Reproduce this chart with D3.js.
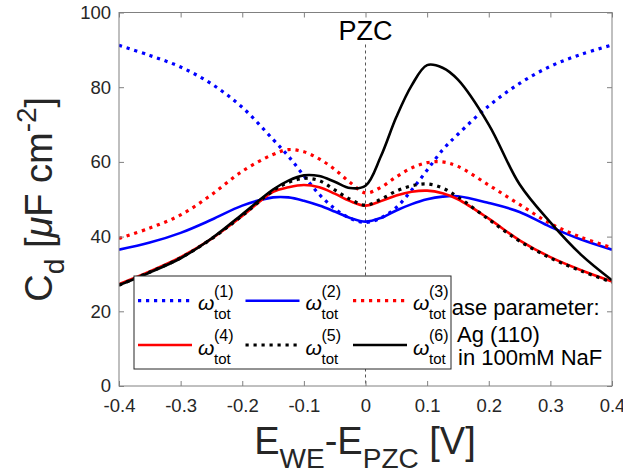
<!DOCTYPE html>
<html>
<head>
<meta charset="utf-8">
<script src="https://cdn.jsdelivr.net/npm/d3@7"></script>
<style>
  body { margin: 0; background: #fff; }
  svg { font-family: "Liberation Sans", Arial, Helvetica, sans-serif; }
</style>
</head>
<body>
<div id="chart"></div>
<script>
// potential grid (V vs PZC)
var potential = [-0.4, -0.35, -0.3, -0.25, -0.2, -0.15, -0.125, -0.1, -0.075, -0.05, -0.025,
                 0, 0.025, 0.05, 0.075, 0.1, 0.125, 0.15, 0.2, 0.25, 0.3, 0.35, 0.4];

// capacitance curves, uF/cm2
var omega1 = [91.2, 88.5, 85.4, 80.9, 74.6, 66, 61.5, 56.3, 51.3, 47.5, 44.9,
              43.8, 45, 47.8, 52.5, 57.8, 63.2, 67.4, 75, 81, 85.6, 88.8, 91.3];
var omega2 = [36.5, 38.4, 41, 44.5, 48.3, 50.5, 50.5, 49.6, 48.3, 46.7, 45,
              44, 45, 47, 48.7, 50, 50.7, 50.8, 49, 46.6, 42.6, 39.2, 36.5];
var omega3 = [39.5, 42.3, 45.8, 51.2, 57.5, 62, 63.3, 62.7, 60.8, 58, 54.5,
              51.7, 53.2, 56, 58.4, 59.8, 60, 58.8, 53.8, 48.6, 43.5, 39.8, 37];
var omega4 = [27.3, 30.7, 34.5, 39.4, 45.5, 52, 53.2, 53.8, 53.2, 51.5, 49.5,
              48.3, 49.5, 51, 52, 52.3, 51.6, 50, 44.8, 39, 34.5, 31, 28];
var omega5 = [27, 30.5, 34.3, 39.4, 45.6, 52.3, 54.5, 55.6, 55, 52.5, 50,
              48.4, 50, 52.2, 53.6, 54.1, 53, 50.6, 44.6, 38.8, 34.3, 30.8, 27.8];
var omega6 = [27, 30.4, 34.2, 39.5, 46, 52.6, 55, 56.4, 56.2, 54.7, 53,
              53.6, 61.5, 72, 80.5, 85.9, 85.2, 82, 70, 54, 43.8, 35.1, 28.3];

var seriesNames = ["(1)", "(2)", "(3)", "(4)", "(5)", "(6)"];
var seriesColors = ["#0000ff", "#0000ff", "#ff0000", "#ff0000", "#000000", "#000000"];
var seriesDotted = [true, false, true, false, true, false];

var xTicks = [-0.4, -0.3, -0.2, -0.1, 0, 0.1, 0.2, 0.3, 0.4];
var yTicks = [0, 20, 40, 60, 80, 100];

var noteLines = ["Base parameter:", "Ag (110)", "in 100mM NaF"];

var svgwidth = 623,
    svgheight = 476,
    margin = {top: 12.5, right: 11, bottom: 90, left: 119},
    width = svgwidth - margin.left - margin.right,
    height = svgheight - margin.top - margin.bottom;

var svg = d3.select("#chart").append("svg")
    .attr("width", svgwidth)
    .attr("height", svgheight);

var g = svg.append("g").attr("transform", "translate(" + margin.left + "," + margin.top + ")");

var x = d3.scaleLinear().domain([-0.4, 0.4]).range([0, width]),
    y = d3.scaleLinear().domain([0, 100]).range([height, 0]);

var series = [omega1, omega2, omega3, omega4, omega5, omega6].map(function(vals, i) {
  return {
    name: seriesNames[i],
    color: seriesColors[i],
    dotted: seriesDotted[i],
    values: vals.map(function(v, j) { return {e: potential[j], c: v}; })
  };
});

var line = d3.line()
    .curve(d3.curveCatmullRom.alpha(0.5))
    .x(function(d) { return x(d.e); })
    .y(function(d) { return y(d.c); });

var axisColor = "#808080", textColor = "#262626";

svg.append("clipPath").attr("id", "clip")
  .append("rect").attr("width", width).attr("height", height);

// PZC marker
g.append("line")
    .attr("x1", x(0)).attr("x2", x(0))
    .attr("y1", 32).attr("y2", height)
    .attr("stroke", "#555")
    .attr("stroke-width", 1)
    .attr("stroke-dasharray", "3,3");

g.append("text")
    .attr("x", x(0))
    .attr("y", 27.5)
    .attr("text-anchor", "middle")
    .style("font-size", "27px")
    .attr("fill", "#000")
    .text("PZC");

// curves
g.append("g").attr("clip-path", "url(#clip)")
  .selectAll("path")
  .data(series)
  .enter().append("path")
    .attr("d", function(d) { return line(d.values); })
    .attr("fill", "none")
    .attr("stroke", function(d) { return d.color; })
    .attr("stroke-width", function(d) { return d.dotted ? 3.2 : 2.6; })
    .attr("stroke-dasharray", function(d) { return d.dotted ? "3.2,4.8" : null; });

// axes, ticks inward on all sides
function styleAxis(sel, labels) {
  sel.select(".domain").remove();
  sel.selectAll(".tick line").attr("stroke", axisColor);
  if (!labels) sel.selectAll(".tick text").remove();
  else sel.selectAll(".tick text").attr("fill", textColor).style("font-size", "18.5px");
}

var fmt = function(d) { return d === 0 ? "0" : d.toFixed(1); };

g.append("g")
    .attr("transform", "translate(0," + height + ")")
    .call(d3.axisBottom(x).tickValues(xTicks).tickSize(-5).tickPadding(13).tickFormat(fmt))
    .call(styleAxis, true);

g.append("g")
    .call(d3.axisTop(x).tickValues(xTicks).tickSize(-5))
    .call(styleAxis, false);

g.append("g")
    .call(d3.axisLeft(y).tickValues(yTicks).tickSize(-5).tickPadding(8))
    .call(styleAxis, true);

g.append("g")
    .attr("transform", "translate(" + width + ",0)")
    .call(d3.axisRight(y).tickValues(yTicks).tickSize(-5))
    .call(styleAxis, false);

g.append("rect")
    .attr("width", width).attr("height", height)
    .attr("fill", "none")
    .attr("stroke", axisColor)
    .attr("stroke-width", 1);

// note text (partly behind legend)
var note = g.append("text")
    .attr("fill", "#000")
    .style("font-size", "22px");
var noteX = [437, 457, 458], noteY = [315, 342, 365];
noteLines.forEach(function(t, i) {
  note.append("tspan").attr("x", noteX[i] - margin.left).attr("y", noteY[i] - margin.top).text(t);
});

// legend
var legend = g.append("g").attr("transform", "translate(" + (134 - margin.left) + "," + (276 - margin.top) + ")");
legend.append("rect")
    .attr("width", 317).attr("height", 93)
    .attr("fill", "#fff")
    .attr("stroke", "#262626")
    .attr("stroke-width", 1);

var item = legend.selectAll(".item")
    .data(series)
  .enter().append("g")
    .attr("class", "item")
    .attr("transform", function(d, i) {
      return "translate(" + (4 + (i % 3) * 107.5) + "," + (24.7 + Math.floor(i / 3) * 44.3) + ")";
    });

item.append("line")
    .attr("x1", 0).attr("x2", 54)
    .attr("stroke", function(d) { return d.color; })
    .attr("stroke-width", function(d) { return d.dotted ? 3.2 : 2.6; })
    .attr("stroke-dasharray", function(d) { return d.dotted ? "3.2,4.8" : null; });

item.append("text")
    .attr("x", 60).attr("y", 9.5)
    .style("font-size", "21px").style("font-style", "italic")
    .attr("fill", "#000")
    .text("\u03c9");

item.append("text")
    .attr("x", 76).attr("y", -4)
    .style("font-size", "16px")
    .attr("fill", "#000")
    .text(function(d) { return d.name; });

item.append("text")
    .attr("x", 76).attr("y", 18.5)
    .style("font-size", "15px")
    .attr("fill", "#000")
    .text("tot");

// axis titles
var xl = svg.append("text")
    .attr("x", 365).attr("y", 454)
    .attr("text-anchor", "middle")
    .attr("fill", textColor)
    .style("font-size", "38px");
xl.append("tspan").text("E");
xl.append("tspan").attr("dy", 14).style("font-size", "28px").text("WE");
xl.append("tspan").attr("dy", -14).text("-E");
xl.append("tspan").attr("dy", 14).style("font-size", "28px").text("PZC");
xl.append("tspan").attr("dy", -14).text(" [V]");

var yl = svg.append("text")
    .attr("transform", "translate(52," + (margin.top + height / 2) + ") rotate(-90)")
    .attr("text-anchor", "middle")
    .attr("fill", textColor)
    .style("font-size", "38px");
yl.append("tspan").text("C");
yl.append("tspan").attr("dy", 12).style("font-size", "28px").text("d");
yl.append("tspan").attr("dy", -12).text(" [");
yl.append("tspan").style("font-style", "italic").text("\u03bc");
yl.append("tspan").text("F cm");
yl.append("tspan").attr("dy", -16).style("font-size", "28px").text("-2");
yl.append("tspan").attr("dy", 16).text("]");
</script>
</body>
</html>
